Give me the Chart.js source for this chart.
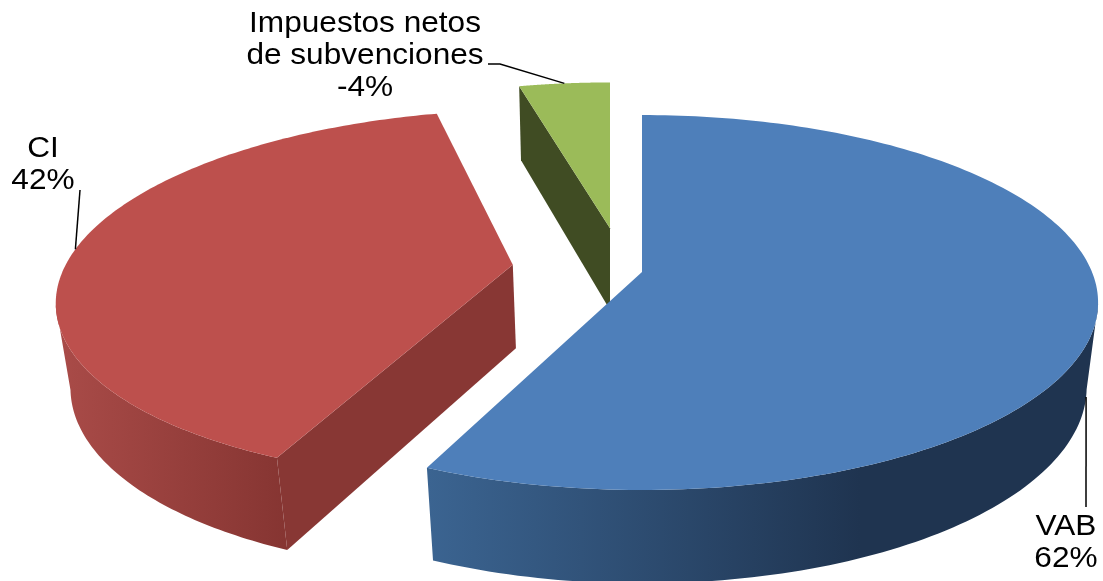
<!DOCTYPE html>
<html lang="es">
<head>
  <meta charset="UTF-8" />
  <title>Estructura de la producción</title>
  <script src="https://cdn.jsdelivr.net/npm/chart.js"></script>
  <style>
    html, body { margin: 0; padding: 0; background: #fff; }
    canvas { display: block; }
  </style>
</head>
<body>
  <canvas id="pieChart" width="1103" height="581"></canvas>
  <script>
    // chart values
    const categories = ['VAB', 'CI', ['Impuestos netos', 'de subvenciones']];
    const printedShares = [62, 42, -4];
    // slice sizes as measured on the picture, the printed labels do not match them exactly
    const sliceSizes = [56.67, 39.44, 3.89];

    const topColors = ['#4e7fba', '#bd504d', '#9bbb59'];
    const cutColors = ['#1f3552', '#883734', '#404c23'];

    // the pie lies on a tilted plane, seen in perspective
    const view = { cx: 642, cy: 272, rx: 450, ry: 182.5, k: 0.1628, depth: 86, shrink: 0.025 };
    // how far each slice is pulled out: x and y in pie radii, then a plain x shift in pixels
    const explode = [[0, 0, 0], [-0.289, -0.04, 0], [0, -0.25, -32]];
    // side wall shading, left x / right x and the two end colours
    const wallShade = [
      { x0: 428, x1: 860, from: '#3b6491', to: '#1f3450' },
      { x0: 60, x1: 285, from: '#a94b48', to: '#863532' }
    ];
    // label text placement
    const labelBoxes = [
      { x: 1066, y: 535, elbow: [[1086, 507]], rimZ: 1 },
      { x: 43, y: 157, elbow: [[80, 190]], rimZ: 0 },
      { x: 365, y: 32, elbow: [[488, 64], [500, 64]], rimZ: 0 }
    ];

    function project(i, X, Y, Z) {
      const px = X + explode[i][0];
      const py = Y + explode[i][1];
      const w = 1 - view.k * py + view.shrink * Z;
      return [view.cx + view.rx * px / w + explode[i][2], view.cy + (view.ry * py + view.depth * Z) / w];
    }

    function rim(i, start, end, Z, frontOnly) {
      const pts = [];
      const steps = 180;
      for (let s = 0; s <= steps; s++) {
        const a = start + (end - start) * s / steps;
        // the part of the wall that faces us starts at the widest point of the ellipse
        if (frontOnly && Math.sin(a) + explode[i][1] < view.k) continue;
        pts.push(project(i, Math.cos(a), Math.sin(a), Z));
      }
      return pts;
    }

    function fillPoly(ctx, pts, fill) {
      ctx.beginPath();
      pts.forEach((p, n) => n ? ctx.lineTo(p[0], p[1]) : ctx.moveTo(p[0], p[1]));
      ctx.closePath();
      ctx.fillStyle = fill;
      ctx.fill();
    }

    const pie3d = {
      id: 'pie3d',
      beforeDatasetsDraw(chart) {
        const ctx = chart.ctx;
        const arcs = chart.getDatasetMeta(0).data;
        [2, 1, 0].forEach(i => {
          const { startAngle, endAngle } = arcs[i];
          const topRim = rim(i, startAngle, endAngle, 0);
          const lowRim = rim(i, startAngle, endAngle, 1);
          const c0 = project(i, 0, 0, 0);
          const c1 = project(i, 0, 0, 1);

          // flat cut face, only the one at the start angle can be seen from here
          fillPoly(ctx, [c0, topRim[0], lowRim[0], c1], cutColors[i]);

          // round wall
          const wallTop = rim(i, startAngle, endAngle, 0, true);
          const wallLow = rim(i, startAngle, endAngle, 1, true);
          if (wallTop.length) {
            const shade = wallShade[i];
            const grad = ctx.createLinearGradient(shade.x0, 0, shade.x1, 0);
            grad.addColorStop(0, shade.from);
            grad.addColorStop(1, shade.to);
            fillPoly(ctx, wallTop.concat(wallLow.reverse()), grad);
          }

          // top face
          fillPoly(ctx, [c0].concat(topRim), topColors[i]);
        });
        return false; // the slices above replace the flat ones
      },
      afterDraw(chart) {
        const ctx = chart.ctx;
        const arcs = chart.getDatasetMeta(0).data;
        ctx.save();
        ctx.font = '29px "Liberation Sans", Arial, sans-serif';
        ctx.textAlign = 'center';
        ctx.textBaseline = 'alphabetic';
        ctx.fillStyle = '#000';
        arcs.forEach((arc, i) => {
          const box = labelBoxes[i];
          const lines = [].concat(categories[i], printedShares[i] + '%');
          lines.forEach((t, n) => {
            // the original text is a little wider than the font
            ctx.save();
            ctx.translate(box.x, box.y + n * 32);
            ctx.scale(1.09, 1);
            ctx.fillText(t, 0, 0);
            ctx.restore();
          });

          // leader line runs to the middle of the slice edge
          const mid = (arc.startAngle + arc.endAngle) / 2;
          const end = project(i, Math.cos(mid), Math.sin(mid), box.rimZ);
          ctx.beginPath();
          box.elbow.forEach((p, n) => n ? ctx.lineTo(p[0], p[1]) : ctx.moveTo(p[0], p[1]));
          ctx.lineTo(end[0], end[1]);
          ctx.strokeStyle = '#000';
          ctx.lineWidth = 1.5;
          ctx.stroke();
        });
        ctx.restore();
      }
    };

    new Chart(document.getElementById('pieChart'), {
      type: 'pie',
      data: {
        labels: categories,
        datasets: [{ data: sliceSizes, backgroundColor: topColors, borderWidth: 0 }]
      },
      options: {
        responsive: false,
        animation: false,
        rotation: 0,
        plugins: { legend: { display: false }, tooltip: { enabled: false } }
      },
      plugins: [pie3d]
    });
  </script>
</body>
</html>
